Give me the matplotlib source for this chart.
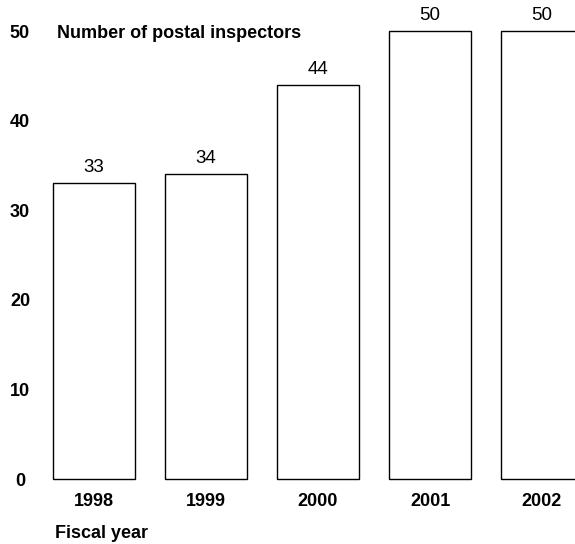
import matplotlib
matplotlib.use("Agg")
import matplotlib.pyplot as plt

# data
years = ["1998", "1999", "2000", "2001", "2002"]
inspectors = [33, 34, 44, 50, 50]
yticks = [0, 10, 20, 30, 40, 50]

plt.rcParams["font.family"] = ["Liberation Sans", "DejaVu Sans"]

W, H = 575, 544
fig = plt.figure(figsize=(W / 100, H / 100), dpi=100)

# axes placed in pixel terms: x from 38 to 575, y from 481 (just under zero) to top
ppu = 8.96  # pixels per inspector
ax = fig.add_axes([38 / W, (H - 481) / H, (W - 38) / W, 481 / H])
pitch = 112.0
ax.set_xlim(-0.5, -0.5 + (W - 38) / pitch)
ax.set_ylim(-2 / ppu, 479 / ppu)

x = range(len(years))
bars = ax.bar(x, inspectors, width=0.73, color="white", edgecolor="black",
              linewidth=1.0)
ax.bar_label(bars, labels=[str(v) for v in inspectors], padding=5, fontsize=13.5)

for s in ax.spines.values():
    s.set_visible(False)

ax.set_xticks(list(x))
ax.set_xticklabels(years, fontsize=13, fontweight="bold")
ax.tick_params(axis="x", length=0, pad=9)

ax.set_yticks(yticks)
ax.set_yticklabels([str(t) for t in yticks], fontsize=13, fontweight="bold",
                   ha="center")
ax.tick_params(axis="y", length=0, pad=13)

fig.text(57 / W, 1 - 33 / H, "Number of postal inspectors", fontsize=13,
         fontweight="bold", va="center", ha="left")
fig.text(55 / W, 1 - 533 / H, "Fiscal year", fontsize=13,
         fontweight="bold", va="center", ha="left")

fig.savefig("out.png", dpi=100)
